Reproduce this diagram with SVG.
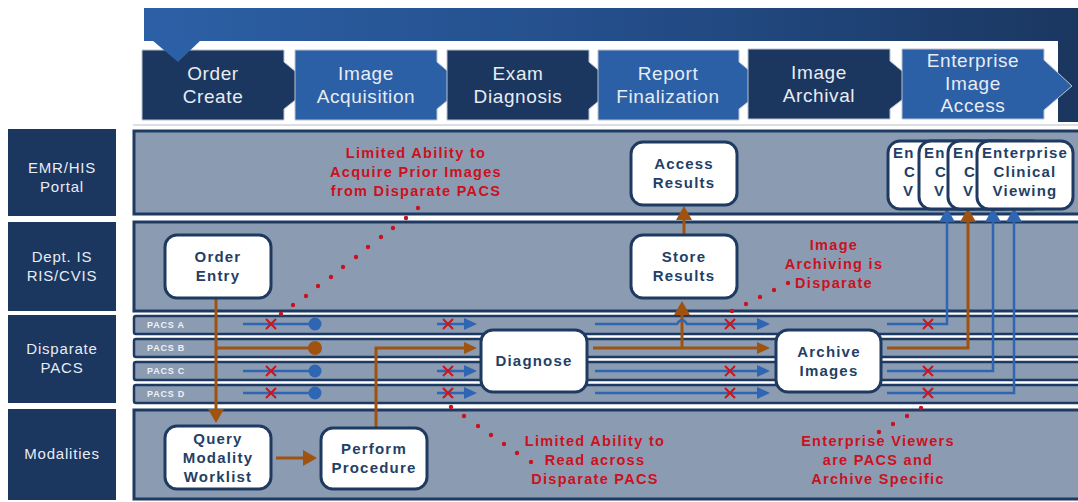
<svg xmlns="http://www.w3.org/2000/svg" width="1078" height="502" viewBox="0 0 1078 502">
<defs>
<linearGradient id="bannerGrad" x1="0" y1="0" x2="1" y2="0">
<stop offset="0" stop-color="#2c60a6"/>
<stop offset="0.55" stop-color="#234c87"/>
<stop offset="1" stop-color="#1a3760"/>
</linearGradient>
<marker id="arrBlue" markerUnits="userSpaceOnUse" markerWidth="13" markerHeight="12" refX="6" refY="6" orient="auto" viewBox="0 0 13 12"><path d="M0,0 L13,6 L0,12 Z" fill="#2f66b3"/></marker>
<marker id="arrBrown" markerUnits="userSpaceOnUse" markerWidth="13" markerHeight="12" refX="6" refY="6" orient="auto" viewBox="0 0 13 12"><path d="M0,0 L13,6 L0,12 Z" fill="#a0520f"/></marker>
<marker id="arrBlueBig" markerUnits="userSpaceOnUse" markerWidth="14" markerHeight="16" refX="6" refY="8" orient="auto" viewBox="0 0 14 16"><path d="M0,0 L14,8 L0,16 Z" fill="#2f66b3"/></marker>
<marker id="arrBrownBig" markerUnits="userSpaceOnUse" markerWidth="14" markerHeight="16" refX="6" refY="8" orient="auto" viewBox="0 0 14 16"><path d="M0,0 L14,8 L0,16 Z" fill="#a0520f"/></marker>
<style>
.stage-dark{fill:#1b365f;stroke:#b9c3d2;stroke-width:1}
.stage-light{fill:#2b5fa6;stroke:#b9c3d2;stroke-width:1}
.stage-txt{font-family:"Liberation Sans",Arial,sans-serif;font-size:19px;fill:#e8ecf3;text-anchor:middle;letter-spacing:0.6px}
.lbl{fill:#1b365f}
.lbl-txt{font-family:"Liberation Sans",Arial,sans-serif;font-size:15px;fill:#e8ecf3;text-anchor:middle;letter-spacing:0.8px}
.lane{fill:#8b9cb2;stroke:#1e3a62;stroke-width:3}
.strip{fill:#8b9cb2;stroke:#1e3a62;stroke-width:2.5}
.strip-txt{font-family:"Liberation Sans",Arial,sans-serif;font-size:9px;font-weight:bold;fill:#eef2f7;letter-spacing:0.8px}
.node{fill:#ffffff;stroke:#1f3a60;stroke-width:3}
.nt{font-family:"Liberation Sans",Arial,sans-serif;font-size:15px;font-weight:bold;fill:#243f66;text-anchor:middle;letter-spacing:1.2px}
.nts{font-family:"Liberation Sans",Arial,sans-serif;font-size:15px;font-weight:bold;fill:#243f66;letter-spacing:1.2px}
.blue{fill:none;stroke:#2f66b3;stroke-width:2.5}
.brown{fill:none;stroke:#a0520f;stroke-width:3}
.xm{stroke:#d0121b;stroke-width:2;fill:none}
.ann{font-family:"Liberation Sans",Arial,sans-serif;font-size:14.5px;font-weight:bold;fill:#cc1020;text-anchor:middle;letter-spacing:1.3px}
.dot{fill:#cc1020}
</style>
</defs>
<rect x="0" y="0" width="1078" height="502" fill="#ffffff"/>

<!-- banner -->
<g id="banner">
<path d="M144,8 H1078 V122 H1058 V41 H144 Z" fill="url(#bannerGrad)"/>
<rect x="1058" y="41" width="20" height="81" fill="#1b365f"/>
<line x1="133" y1="125" x2="1078" y2="125" stroke="#b8c0cc" stroke-width="1"/>
</g>

<!-- stage boxes -->
<g id="stage-order-create">
<path class="stage-dark" d="M142,50 H284 V62 L313,86 L284,109 V120 H142 Z"/>
<text class="stage-txt" x="213" y="80">Order</text>
<text class="stage-txt" x="213" y="103">Create</text>
</g>
<g id="stage-image-acquisition">
<path class="stage-light" d="M295,50 H437 V62 L465,86 L437,109 V120 H295 Z"/>
<text class="stage-txt" x="366" y="80">Image</text>
<text class="stage-txt" x="366" y="103">Acquisition</text>
</g>
<g id="stage-exam-diagnosis">
<path class="stage-dark" d="M447,50 H589 V62 L617,86 L589,109 V120 H447 Z"/>
<text class="stage-txt" x="518" y="80">Exam</text>
<text class="stage-txt" x="518" y="103">Diagnosis</text>
</g>
<g id="stage-report-finalization">
<path class="stage-light" d="M598,50 H739 V62 L768,86 L739,109 V120 H598 Z"/>
<text class="stage-txt" x="668" y="80">Report</text>
<text class="stage-txt" x="668" y="103">Finalization</text>
</g>
<g id="stage-image-archival">
<path class="stage-dark" d="M748,49 H890 V61 L920,86 L890,109 V119 H748 Z"/>
<text class="stage-txt" x="819" y="79">Image</text>
<text class="stage-txt" x="819" y="102">Archival</text>
</g>
<g id="stage-enterprise-image-access">
<path class="stage-light" d="M902,49 H1044 V60 L1072,86 L1044,110 V119 H902 Z"/>
<text class="stage-txt" x="973" y="67">Enterprise</text>
<text class="stage-txt" x="973" y="90">Image</text>
<text class="stage-txt" x="973" y="112">Access</text>
</g>
<polygon id="banner-pointer" points="152,40 201,40 178,62" fill="#2c60a6"/>

<!-- lane labels -->
<g id="label-emr">
<rect class="lbl" x="8" y="129" width="108" height="87"/>
<text class="lbl-txt" x="62" y="173">EMR/HIS</text>
<text class="lbl-txt" x="62" y="192">Portal</text>
</g>
<g id="label-dept">
<rect class="lbl" x="8" y="222" width="108" height="89"/>
<text class="lbl-txt" x="62" y="262">Dept. IS</text>
<text class="lbl-txt" x="62" y="281">RIS/CVIS</text>
</g>
<g id="label-pacs">
<rect class="lbl" x="8" y="315" width="108" height="88"/>
<text class="lbl-txt" x="62" y="354">Disparate</text>
<text class="lbl-txt" x="62" y="373">PACS</text>
</g>
<g id="label-modalities">
<rect class="lbl" x="8" y="409" width="108" height="91"/>
<text class="lbl-txt" x="62" y="459">Modalities</text>
</g>

<!-- lanes -->
<g id="lanes">
<rect class="lane" x="134" y="131" width="960" height="83"/>
<rect class="lane" x="134" y="222" width="960" height="89"/>
<rect class="strip" x="134" y="316" width="960" height="18" rx="2"/>
<rect class="strip" x="134" y="339" width="960" height="18" rx="2"/>
<rect class="strip" x="134" y="362" width="960" height="18" rx="2"/>
<rect class="strip" x="134" y="385" width="960" height="18" rx="2"/>
<rect class="lane" x="134" y="410" width="960" height="89"/>
<text class="strip-txt" x="147" y="328">PACS A</text>
<text class="strip-txt" x="147" y="351">PACS B</text>
<text class="strip-txt" x="147" y="374">PACS C</text>
<text class="strip-txt" x="147" y="397">PACS D</text>
</g>

<!-- connectors -->
<g id="connectors">
<path class="brown" d="M216,298 V415" marker-end="url(#arrBrownBig)"/>
<path class="brown" d="M216,348 H312"/>
<circle cx="315" cy="348" r="7" fill="#a0520f"/>
<path class="brown" d="M276,458 H309" marker-end="url(#arrBrownBig)"/>
<path class="brown" d="M376,428 V348 H470" marker-end="url(#arrBrown)"/>
<path class="brown" d="M593,348 H763" marker-end="url(#arrBrown)"/>
<path class="brown" d="M682,348 V309" marker-end="url(#arrBrownBig)"/>
<path class="brown" d="M684,235 V214" marker-end="url(#arrBrownBig)"/>
<path class="brown" d="M887,348 H968 V216" marker-end="url(#arrBrownBig)"/>
<path class="blue" d="M243,324 H312"/>
<circle cx="315" cy="324" r="6.5" fill="#2f66b3"/>
<path class="blue" d="M243,371 H312"/>
<circle cx="315" cy="371" r="6.5" fill="#2f66b3"/>
<path class="blue" d="M243,393 H312"/>
<circle cx="315" cy="393" r="6.5" fill="#2f66b3"/>
<path class="blue" d="M437,324 H470" marker-end="url(#arrBlue)"/>
<path class="blue" d="M437,371 H470" marker-end="url(#arrBlue)"/>
<path class="blue" d="M437,393 H470" marker-end="url(#arrBlue)"/>
<path class="blue" d="M595,324 H677 Q682,316 687,324 H763" marker-end="url(#arrBlue)"/>
<path class="blue" d="M595,371 H763" marker-end="url(#arrBlue)"/>
<path class="blue" d="M595,393 H763" marker-end="url(#arrBlue)"/>
<path class="blue" d="M887,324 H947 V216" marker-end="url(#arrBlueBig)"/>
<path class="blue" d="M887,371 H993 V216" marker-end="url(#arrBlueBig)"/>
<path class="blue" d="M887,393 H1014 V216" marker-end="url(#arrBlueBig)"/>
<path class="xm" d="M266,319 l10,10 M276,319 l-10,10"/>
<path class="xm" d="M266,366 l10,10 M276,366 l-10,10"/>
<path class="xm" d="M266,388 l10,10 M276,388 l-10,10"/>
<path class="xm" d="M443,319 l10,10 M453,319 l-10,10"/>
<path class="xm" d="M443,366 l10,10 M453,366 l-10,10"/>
<path class="xm" d="M443,388 l10,10 M453,388 l-10,10"/>
<path class="xm" d="M725,319 l10,10 M735,319 l-10,10"/>
<path class="xm" d="M725,366 l10,10 M735,366 l-10,10"/>
<path class="xm" d="M725,388 l10,10 M735,388 l-10,10"/>
<path class="xm" d="M923,319 l10,10 M933,319 l-10,10"/>
<path class="xm" d="M923,366 l10,10 M933,366 l-10,10"/>
<path class="xm" d="M923,388 l10,10 M933,388 l-10,10"/>
</g>

<!-- nodes -->
<g id="node-order-entry">
<rect class="node" x="165" y="235" width="106" height="63" rx="12"/>
<text class="nt" x="218" y="262">Order</text>
<text class="nt" x="218" y="281">Entry</text>
</g>
<g id="node-access-results">
<rect class="node" x="631" y="142" width="106" height="63" rx="12"/>
<text class="nt" x="684" y="169">Access</text>
<text class="nt" x="684" y="188">Results</text>
</g>
<g id="node-store-results">
<rect class="node" x="631" y="235" width="106" height="63" rx="12"/>
<text class="nt" x="684" y="262">Store</text>
<text class="nt" x="684" y="281">Results</text>
</g>
<g id="node-viewer-1">
<rect class="node" x="888" y="141" width="96" height="68" rx="12"/>
<text class="nts" x="893" y="158">En</text>
<text class="nts" x="904" y="177">C</text>
<text class="nts" x="903" y="196">V</text>
</g>
<g id="node-viewer-2">
<rect class="node" x="919" y="141" width="96" height="68" rx="12"/>
<text class="nts" x="924" y="158">En</text>
<text class="nts" x="935" y="177">C</text>
<text class="nts" x="934" y="196">V</text>
</g>
<g id="node-viewer-3">
<rect class="node" x="948" y="141" width="96" height="68" rx="12"/>
<text class="nts" x="953" y="158">En</text>
<text class="nts" x="964" y="177">C</text>
<text class="nts" x="963" y="196">V</text>
</g>
<g id="node-viewer-4">
<rect class="node" x="977" y="141" width="96" height="68" rx="12"/>
<text class="nt" x="1025" y="158">Enterprise</text>
<text class="nt" x="1025" y="177">Clinical</text>
<text class="nt" x="1025" y="196">Viewing</text>
</g>
<g id="node-diagnose">
<rect class="node" x="481" y="330" width="106" height="62" rx="12"/>
<text class="nt" x="534" y="366">Diagnose</text>
</g>
<g id="node-archive-images">
<rect class="node" x="776" y="330" width="105" height="62" rx="12"/>
<text class="nt" x="829" y="357">Archive</text>
<text class="nt" x="829" y="376">Images</text>
</g>
<g id="node-query-worklist">
<rect class="node" x="165" y="426" width="106" height="63" rx="12"/>
<text class="nt" x="218" y="444">Query</text>
<text class="nt" x="218" y="463">Modality</text>
<text class="nt" x="218" y="482">Worklist</text>
</g>
<g id="node-perform-procedure">
<rect class="node" x="321" y="428" width="106" height="61" rx="12"/>
<text class="nt" x="374" y="454">Perform</text>
<text class="nt" x="374" y="473">Procedure</text>
</g>

<!-- annotations -->
<g id="annotations">
<text class="ann" x="416" y="158">Limited Ability to</text>
<text class="ann" x="416" y="177">Acquire Prior Images</text>
<text class="ann" x="416" y="196">from Disparate PACS</text>
<g class="dot">
<circle cx="418" cy="208" r="2.2"/><circle cx="406" cy="218" r="2.2"/><circle cx="393" cy="228" r="2.2"/><circle cx="381" cy="237" r="2.2"/><circle cx="368" cy="247" r="2.2"/><circle cx="356" cy="257" r="2.2"/><circle cx="343" cy="267" r="2.2"/><circle cx="331" cy="277" r="2.2"/><circle cx="318" cy="286" r="2.2"/><circle cx="306" cy="296" r="2.2"/><circle cx="293" cy="305" r="2.2"/><circle cx="281" cy="314" r="2.2"/>
</g>
<text class="ann" x="834" y="250">Image</text>
<text class="ann" x="834" y="269">Archiving is</text>
<text class="ann" x="834" y="288">Disparate</text>
<g class="dot">
<circle cx="788" cy="283" r="2.2"/><circle cx="774" cy="290" r="2.2"/><circle cx="760" cy="297" r="2.2"/><circle cx="746" cy="304" r="2.2"/><circle cx="732" cy="311" r="2.2"/>
</g>
<text class="ann" x="595" y="446">Limited Ability to</text>
<text class="ann" x="595" y="465">Read across</text>
<text class="ann" x="595" y="484">Disparate PACS</text>
<g class="dot">
<circle cx="451" cy="407" r="2.2"/><circle cx="464" cy="416" r="2.2"/><circle cx="478" cy="426" r="2.2"/><circle cx="491" cy="435" r="2.2"/><circle cx="504" cy="444" r="2.2"/><circle cx="517" cy="453" r="2.2"/><circle cx="531" cy="462" r="2.2"/>
</g>
<text class="ann" x="878" y="446">Enterprise Viewers</text>
<text class="ann" x="878" y="465">are PACS and</text>
<text class="ann" x="878" y="484">Archive Specific</text>
<g class="dot">
<circle cx="921" cy="408" r="2.2"/><circle cx="907" cy="416" r="2.2"/><circle cx="893" cy="424" r="2.2"/><circle cx="879" cy="432" r="2.2"/>
</g>
</g>
</svg>
